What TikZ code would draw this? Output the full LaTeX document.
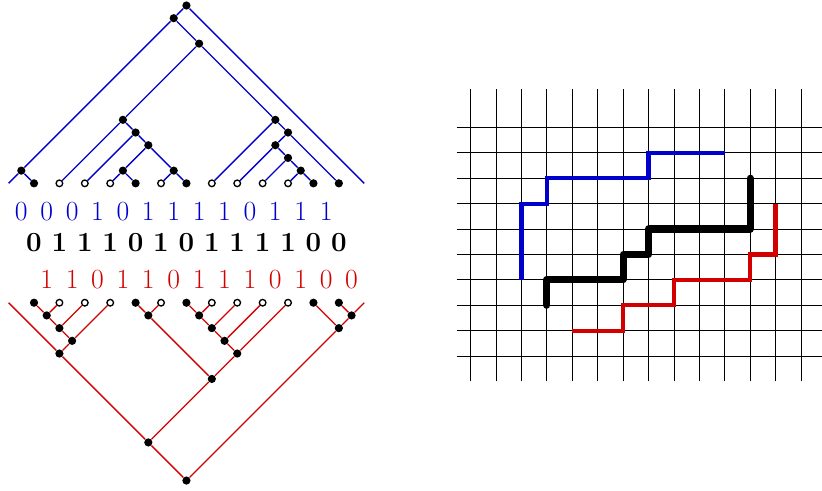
\documentclass[tikz,border=0pt]{standalone}
\usepackage{tikz}
\usetikzlibrary{positioning}
\definecolor{dyckblue}{RGB}{0,0,205}
\definecolor{dyckred}{RGB}{210,0,0}
\tikzset{
  full/.style     ={circle,fill=black,minimum size=4.6pt,inner sep=0pt},
  hole/.style     ={circle,draw=black,fill=white,line width=0.75pt,minimum size=3.7pt,inner sep=0pt},
  bluetree/.style ={dyckblue,line width=0.75pt},
  redtree/.style  ={dyckred,line width=0.75pt},
  digit/.style    ={anchor=base,inner sep=0pt,font=\fontsize{15.5}{18}\selectfont},
  gridline/.style ={black,line width=0.45pt},
  bluepath/.style ={dyckblue,line width=2.3pt},
  blackpath/.style={black,line width=4pt,line cap=round,line join=round},
  redpath/.style  ={dyckred,line width=2.3pt},
}

\begin{document}
\begin{tikzpicture}[x=0.5cm,y=0.5cm]
  \useasboundingbox (-0.339,-12.075) rectangle (32.02,7.217);

  % upper tree (blue)
  \coordinate (b0) at (0,0);
  \coordinate (b14) at (14,0);
  \foreach \i/\k in {1/full,2/hole,3/hole,4/hole,5/full,6/hole,7/full,
                     8/hole,9/hole,10/hole,11/hole,12/full,13/full}
     \node[\k] (b\i) at (\i,0) {};
  \foreach \n/\x/\y in {0/7/7,1/6.5/6.5,2/0.5/0.5,3/7.5/5.5,4/4.5/2.5,5/5/2,6/5.5/1.5,
                        7/4.5/0.5,8/6.5/0.5,9/10.5/2.5,10/11/2,11/10.5/1.5,12/11/1,13/11.5/0.5}
     \node[full] (t\n) at (\x,\y) {};
  \foreach \a/\b in {t0/t1,t0/b14,t1/t2,t1/t3,t2/b0,t2/b1,t3/t4,t3/t9,t4/b2,t4/t5,
                     t5/b3,t5/t6,t6/t7,t6/t8,t7/b4,t7/b5,t8/b6,t8/b7,t9/b8,t9/t10,
                     t10/t11,t10/b13,t11/b9,t11/t12,t12/b10,t12/t13,t13/b11,t13/b12}
     \draw[bluetree] (\a)--(\b);

  % the three words
  \foreach \d [count=\i] in {0,0,0,1,0,1,1,1,1,0,1,1,1}
     \node[digit,dyckblue] (u\i) at (\i-0.5,-1.445) {\d};
  \foreach \d [count=\i] in {0,1,1,1,0,1,0,1,1,1,1,0,0}
     \node[digit,black] (m\i) at (\i,-2.69) {\bfseries\d};
  \foreach \d [count=\i] in {1,1,0,1,1,0,1,1,1,0,1,0,0}
     \node[digit,dyckred] (l\i) at (\i+0.5,-4.13) {\d};

  % lower tree (red), upside down
  \begin{scope}[yshift=-4.7*0.5cm,y=-0.5cm]
  \coordinate (c0) at (0,0);
  \coordinate (c14) at (14,0);
  \foreach \i/\k in {1/full,2/hole,3/hole,4/hole,5/full,6/hole,7/full,
                     8/hole,9/hole,10/hole,11/hole,12/full,13/full}
     \node[\k] (c\i) at (\i,0) {};
  \foreach \n/\x/\y in {0/7/7,1/5.5/5.5,2/13/1,3/13.5/0.5,4/2/2,5/2.5/1.5,6/2/1,
                        7/1.5/0.5,8/8/3,9/5.5/0.5,10/9/2,11/8.5/1.5,12/8/1,13/7.5/0.5}
     \node[full] (r\n) at (\x,\y) {};
  \foreach \a/\b in {r0/r1,r0/r2,r2/c12,r2/r3,r3/c13,r3/c14,r1/r4,r1/r8,r4/c0,r4/r5,
                     r5/r6,r5/c4,r6/r7,r6/c3,r7/c1,r7/c2,r8/r9,r8/r10,r9/c5,r9/c6,
                     r10/r11,r10/c11,r11/r12,r11/c10,r12/r13,r12/c9,r13/c7,r13/c8}
     \draw[redtree] (\a)--(\b);
  \end{scope}

  % lattice paths
  \begin{scope}[shift={(18.19,-6.8)}]
  \foreach \c in {0,...,13}
     \draw[gridline] (\c,-1) -- (\c,10.5);
  \foreach \r in {0,...,9}
     \draw[gridline] (-0.55,\r) -- (13.83,\r);
  \draw[bluepath] (2,3) -- (2,6) -- (3,6) -- (3,7) -- (7,7) -- (7,8) -- (10,8);
  \draw[blackpath] (3,2) -- (3,3) -- (6,3) -- (6,4) -- (7,4) -- (7,5) -- (11,5) -- (11,7);
  \draw[redpath] (4,1) -- (6,1) -- (6,2) -- (8,2) -- (8,3) -- (11,3) -- (11,4) -- (12,4) -- (12,6);
  \end{scope}
\end{tikzpicture}
\end{document}
